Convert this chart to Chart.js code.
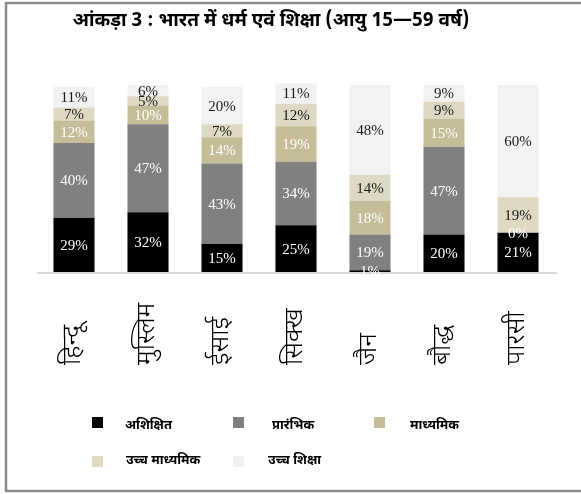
<!DOCTYPE html>
<html>
<head>
<meta charset="utf-8">
<script src="https://cdn.jsdelivr.net/npm/chart.js@4.4.0/dist/chart.umd.min.js"></script>
<style>
html,body{margin:0;padding:0;background:#fff;}
#wrap{position:relative;width:581px;height:494px;}
canvas{display:block;}
</style>
</head>
<body>
<div id="wrap"><canvas id="c" width="581" height="494"></canvas></div>
<script>
const titleText = 'आंकड़ा 3 : भारत में धर्म एवं शिक्षा (आयु 15—59 वर्ष)';
const categories = ['हिन्दू', 'मुस्लिम', 'ईसाई', 'सिक्ख', 'जैन', 'बौद्ध', 'पारसी'];
const seriesNames = ['अशिक्षित', 'प्रारंभिक', 'माध्यमिक', 'उच्च माध्यमिक', 'उच्च शिक्षा'];
const illiterate   = [29, 32, 15, 25, 1, 20, 21];
const primary      = [40, 47, 43, 34, 19, 47, 0];
const secondary    = [12, 10, 14, 19, 18, 15, null];
const highSecondary= [7, 5, 7, 12, 14, 9, 19];
const higherEdu    = [11, 6, 20, 11, 48, 9, 60];

const colors = ['#000000', '#808080', '#C4BD97', '#DDD9C3', '#F2F2F2'];
const labelColors = ['#ffffff', '#ffffff', '#ffffff', '#1a1a1a', '#1a1a1a'];
const DEV = "'Noto Sans Devanagari','Lohit Devanagari','Noto Sans','FreeSans',sans-serif";

const seriesValues = [illiterate, primary, secondary, highSecondary, higherEdu];

const decor = {
  id: 'decor',
  beforeDraw(chart) {
    const ctx = chart.ctx;
    ctx.save();
    ctx.fillStyle = '#fff';
    ctx.fillRect(0, 0, chart.width, chart.height);
    // frame
    ctx.strokeStyle = '#8c8c8c';
    ctx.lineWidth = 2.5;
    ctx.beginPath();
    ctx.moveTo(chart.width + 5, 3);
    ctx.lineTo(6, 3);
    ctx.lineTo(6, 491);
    ctx.lineTo(chart.width + 5, 491);
    ctx.stroke();
    // title
    ctx.fillStyle = '#000';
    ctx.font = 'bold 19px ' + DEV;
    ctx.textAlign = 'center';
    ctx.textBaseline = 'middle';
    ctx.fillText(titleText, 271, 22);
    ctx.restore();
  },
  afterDatasetsDraw(chart) {
    const ctx = chart.ctx;
    const ca = chart.chartArea;
    ctx.save();
    // axis line
    ctx.strokeStyle = '#d9d9d9';
    ctx.lineWidth = 2;
    ctx.beginPath();
    ctx.moveTo(ca.left, ca.bottom + 1);
    ctx.lineTo(ca.right + 2, ca.bottom + 1);
    ctx.stroke();
    // value labels
    ctx.font = '15px "Liberation Serif","Times New Roman",serif';
    ctx.textAlign = 'center';
    ctx.textBaseline = 'middle';
    chart.data.datasets.forEach((ds, di) => {
      const meta = chart.getDatasetMeta(di);
      meta.data.forEach((bar, i) => {
        const v = ds.data[i];
        if (v === null || v === undefined) return;
        const cy = (bar.y + bar.base) / 2;
        ctx.fillStyle = labelColors[di];
        ctx.fillText(v + '%', bar.x, cy + 1);
      });
    });
    // category labels (rotated, start aligned at bottom)
    const xs = chart.scales.x;
    ctx.font = '300 26px ' + DEV;
    ctx.fillStyle = '#000';
    ctx.textAlign = 'left';
    ctx.textBaseline = 'middle';
    categories.forEach((c, i) => {
      const x = xs.getPixelForValue(i);
      ctx.save();
      ctx.translate(x + 1, 365);
      ctx.rotate(-Math.PI / 2);
      ctx.fillText(c, 0, 0);
      ctx.restore();
    });
    // legend
    const items = [
      {mx: 92, my: 417, tx: 125, ty: 427},
      {mx: 233, my: 417, tx: 272, ty: 427},
      {mx: 374, my: 417, tx: 410, ty: 427},
      {mx: 92, my: 456, tx: 126, ty: 462},
      {mx: 233, my: 456, tx: 268, ty: 462}
    ];
    ctx.font = 'bold 13px ' + DEV;
    ctx.textAlign = 'left';
    ctx.textBaseline = 'middle';
    chart.data.datasets.forEach((ds, di) => {
      const it = items[di];
      ctx.fillStyle = ds.backgroundColor;
      ctx.fillRect(it.mx, it.my, 11, 11);
      ctx.fillStyle = '#000';
      ctx.fillText(ds.label, it.tx, it.ty);
    });
    ctx.restore();
  }
};

new Chart(document.getElementById('c'), {
  type: 'bar',
  data: {
    labels: categories,
    datasets: seriesNames.map((n, i) => ({
      label: n,
      data: seriesValues[i],
      backgroundColor: colors[i],
      borderWidth: 0,
      barPercentage: 0.555,
      categoryPercentage: 1.0
    }))
  },
  options: {
    responsive: false,
    animation: false,
    devicePixelRatio: 1,
    layout: { padding: { left: 37, right: 26, top: 85, bottom: 222 } },
    scales: {
      x: { stacked: true, display: false },
      y: { stacked: true, display: false, min: 0, max: 100 }
    },
    plugins: {
      legend: { display: false },
      title: { display: false },
      tooltip: { enabled: false }
    },
    clip: false
  },
  plugins: [decor]
});
</script>
</body>
</html>
